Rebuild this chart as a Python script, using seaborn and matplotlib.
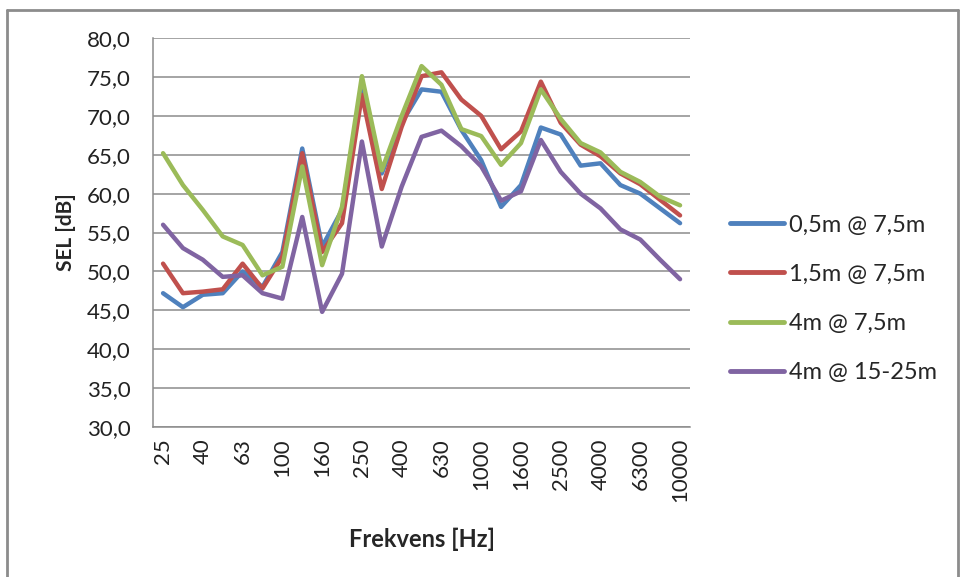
import matplotlib
matplotlib.use("Agg")
import matplotlib.pyplot as plt
import seaborn as sns
import pandas as pd
import numpy as np
from matplotlib.lines import Line2D

# third-octave bands, 25 Hz - 10 kHz
bands = ["25", "31.5", "40", "50", "63", "80", "100", "125", "160", "200",
         "250", "315", "400", "500", "630", "800", "1000", "1250", "1600",
         "2000", "2500", "3150", "4000", "5000", "6300", "8000", "10000"]

sel_05m_75m = [47.2, 45.4, 47.0, 47.2, 50.0, 48.0, 52.5, 65.8, 53.2, 57.9,
               74.0, 62.6, 69.1, 73.4, 73.1, 68.2, 64.3, 58.3, 61.1, 68.5,
               67.6, 63.6, 63.9, 61.1, 60.0, 58.1, 56.2]
sel_15m_75m = [51.0, 47.2, 47.4, 47.7, 51.0, 47.8, 51.9, 65.2, 52.5, 56.2,
               72.7, 60.6, 68.6, 75.1, 75.6, 72.1, 70.0, 65.7, 68.0, 74.4,
               69.1, 66.3, 64.8, 62.6, 61.2, 59.2, 57.2]
sel_4m_75m = [65.2, 61.1, 57.9, 54.5, 53.4, 49.5, 50.6, 63.5, 50.8, 58.3,
              75.1, 63.0, 70.0, 76.4, 74.0, 68.3, 67.4, 63.7, 66.5, 73.4,
              69.6, 66.5, 65.3, 62.8, 61.5, 59.6, 58.5]
sel_4m_1525m = [56.0, 53.0, 51.5, 49.3, 49.5, 47.2, 46.5, 57.0, 44.8, 49.7,
                66.7, 53.2, 60.9, 67.3, 68.1, 66.1, 63.5, 59.1, 60.3, 66.9,
                62.8, 60.0, 58.1, 55.4, 54.1, 51.5, 49.0]

series_names = ["0,5m @ 7,5m", "1,5m @ 7,5m", "4m @ 7,5m", "4m @ 15-25m"]
colors = ["#4F81BD", "#C0504D", "#9BBB59", "#8064A2"]

rows = []
for name, vals in zip(series_names,
                      [sel_05m_75m, sel_15m_75m, sel_4m_75m, sel_4m_1525m]):
    for i, v in enumerate(vals):
        rows.append({"pos": i, "band": bands[i], "SEL": v, "series": name})
df = pd.DataFrame(rows)

sns.set_style("white")
plt.rcParams["font.family"] = ["Lato", "DejaVu Sans"]

fig = plt.figure(figsize=(9.63, 5.77), dpi=100)
ax = fig.add_axes([0.159, 0.26, 0.5575, 0.674])

sns.lineplot(data=df, x="pos", y="SEL", hue="series", hue_order=series_names,
             palette=colors, linewidth=3.2, ax=ax, legend=False)

grid_c = "#8C8C8C"
ax.set_ylim(30, 80)
ax.set_yticks(np.arange(30, 81, 5))
ax.set_yticklabels([f"{v:.1f}".replace(".", ",") for v in np.arange(30, 81, 5)],
                   fontsize=16, color="#222222")
ax.yaxis.grid(True, color=grid_c, linewidth=1.1)
ax.set_axisbelow(True)

ax.set_xlim(-0.5, len(bands) - 0.5)
ax.set_xticks(np.arange(0, len(bands), 2))
ax.set_xticklabels(bands[::2], rotation=90, fontsize=16, color="#222222")
ax.set_xticks(np.arange(-0.5, len(bands), 1), minor=True)
ax.tick_params(axis="x", which="major", length=0, pad=8)
ax.tick_params(axis="x", which="minor", length=5, color=grid_c, width=1, direction="out")
ax.tick_params(axis="y", length=6, color=grid_c, width=1, direction="out", pad=10)

for side in ["top", "right"]:
    ax.spines[side].set_visible(False)
for side in ["left", "bottom"]:
    ax.spines[side].set_color(grid_c)
    ax.spines[side].set_linewidth(1.1)

ax.set_xlabel("Frekvens [Hz]", fontsize=17, fontweight="bold", labelpad=18)
ax.set_ylabel("SEL [dB]", fontsize=15, fontweight="bold", labelpad=8)

handles = [Line2D([0], [0], color=c, linewidth=3.5) for c in colors]
fig.legend(handles, series_names, loc="center left", bbox_to_anchor=(0.736, 0.482),
           frameon=False, fontsize=17, handlelength=2.3, handletextpad=0.2,
           labelspacing=1.2)

# outer chart border
fig.add_artist(Line2D([0.007, 0.007], [0.0, 0.983], color="#8C8C8C", linewidth=2,
                      transform=fig.transFigure))
fig.add_artist(Line2D([0.007, 0.995], [0.983, 0.983], color="#8C8C8C", linewidth=2,
                      transform=fig.transFigure))
fig.add_artist(Line2D([0.995, 0.995], [0.0, 0.983], color="#8C8C8C", linewidth=2,
                      transform=fig.transFigure))

fig.savefig("out.png", dpi=100)
